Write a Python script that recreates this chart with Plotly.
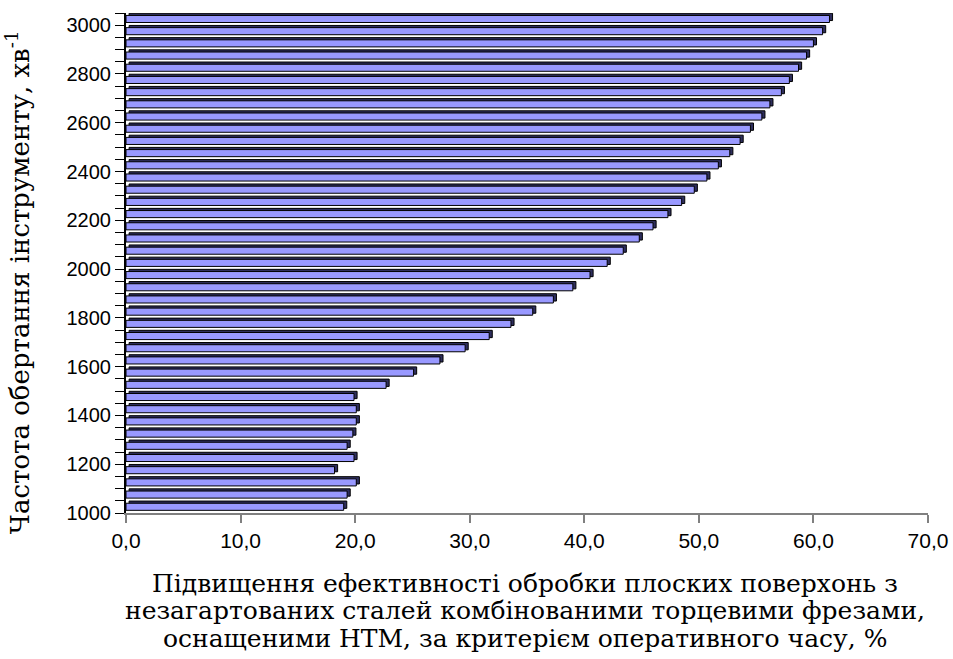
import plotly.graph_objects as go

# Rotation speed categories (min^-1)
speeds = list(range(1000, 3001, 50))
# Efficiency increase, % (bottom -> top)
efficiency = [
    19.0, 19.3, 20.1, 18.2, 19.9, 19.3, 19.8, 20.1, 20.1, 19.9,
    22.7, 25.1, 27.4, 29.6, 31.7, 33.6, 35.5, 37.3, 39.0, 40.5,
    42.0, 43.4, 44.8, 46.0, 47.3, 48.5, 49.6, 50.7, 51.7, 52.7,
    53.6, 54.5, 55.5, 56.2, 57.2, 57.9, 58.7, 59.4, 60.0, 60.8,
    61.4,
]
y_tick_vals = list(range(1000, 3051, 50))
y_tick_text = [str(v) if v % 200 == 0 and v <= 3000 else "" for v in y_tick_vals]
x_tick_vals = [0, 10, 20, 30, 40, 50, 60, 70]
x_tick_text = ["0,0", "10,0", "20,0", "30,0", "40,0", "50,0", "60,0", "70,0"]

x_title_lines = [
    "Підвищення ефективності обробки плоских поверхонь з",
    "незагартованих сталей комбінованими торцевими фрезами,",
    "оснащеними НТМ, за критерієм оперативного часу, %",
]
y_title = "Частота обертання інструменту, хв<sup>-1</sup>"

depth = 0.27
fig = go.Figure()
# back (3D depth) face
fig.add_trace(go.Bar(
    y=speeds, x=efficiency, base=depth, orientation="h",
    width=30, offset=19,
    marker=dict(color="#2e2e5c", line=dict(color="#000000", width=1)),
    hoverinfo="skip", showlegend=False,
))
# front face
fig.add_trace(go.Bar(
    y=speeds, x=efficiency, orientation="h",
    width=29, offset=11,
    marker=dict(color="#9999FF", line=dict(color="#000000", width=1)),
    showlegend=False,
))

serif = "DejaVu Serif, serif"
annotations = []
for i, line in enumerate(x_title_lines):
    annotations.append(dict(
        text=line, xref="paper", yref="paper", x=0.497, y=-0.14 - i * 0.055,
        showarrow=False, xanchor="center", yanchor="middle",
        font=dict(family=serif, size=25, color="black")))
annotations.append(dict(
    text=y_title, xref="paper", yref="paper", x=-0.1345, y=0.462,
    showarrow=False, xanchor="center", yanchor="middle", textangle=-90,
    font=dict(family=serif, size=26, color="black")))

fig.update_layout(
    width=953, height=659,
    margin=dict(l=126, r=25, t=13, b=146, autoexpand=False),
    paper_bgcolor="white", plot_bgcolor="white",
    barmode="overlay",
    font=dict(family="Liberation Sans, Arial, sans-serif", size=20, color="black"),
    xaxis=dict(
        range=[0, 70], tickvals=x_tick_vals, ticktext=x_tick_text,
        showgrid=False, zeroline=False, automargin=False,
        showline=True, linecolor="#808080", linewidth=1.5,
        ticks="outside", ticklen=8, tickcolor="#808080", tickwidth=1.5,
        tickfont=dict(size=21),
    ),
    yaxis=dict(
        range=[1000, 3050], tickvals=y_tick_vals, ticktext=y_tick_text,
        showgrid=False, zeroline=False, automargin=False,
        showline=True, linecolor="#000000", linewidth=2,
        ticks="outside", ticklen=9, tickcolor="#000000", tickwidth=1.2,
        tickfont=dict(size=20),
    ),
    annotations=annotations,
)

fig.write_html("out.html", config={"displayModeBar": False},
               post_script="document.body.style.margin='0px';")
